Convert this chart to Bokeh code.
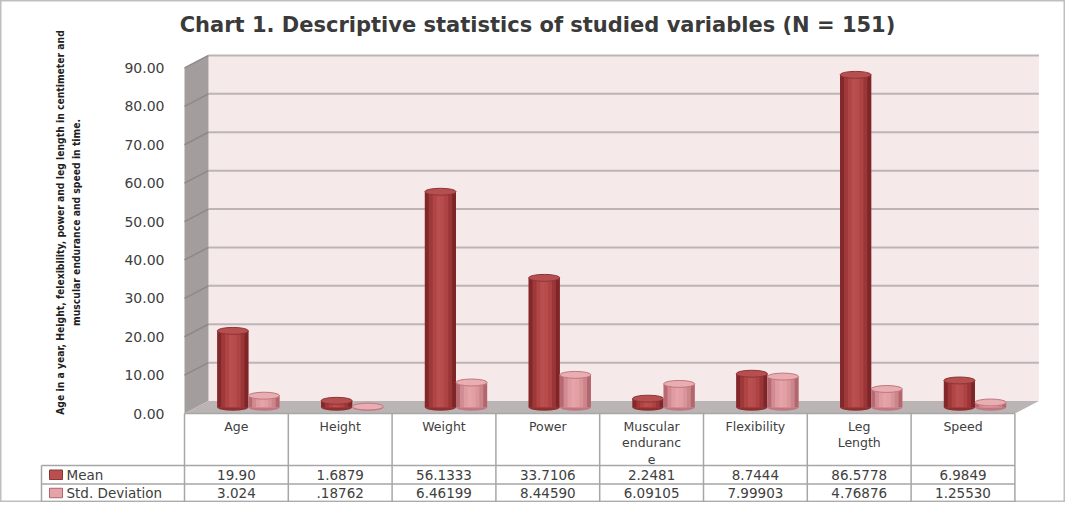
import numpy as np
from bokeh.plotting import figure
from bokeh.models import Range1d, ColumnDataSource
from bokeh.embed import file_html
from bokeh.resources import INLINE
from bokeh.core.properties import value

# ---------------- data ----------------
categories = ["Age", "Height", "Weight", "Power", "Muscular endurance",
              "Flexibility", "Leg Length", "Speed"]
category_labels = ["Age", "Height", "Weight", "Power", "Muscular\nenduranc\ne",
                   "Flexibility", "Leg\nLength", "Speed"]
mean_values = [19.90, 1.6879, 56.1333, 33.7106, 2.2481, 8.7444, 86.5778, 6.9849]
std_values = [3.024, 0.18762, 6.46199, 8.44590, 6.09105, 7.99903, 4.76876, 1.25530]
mean_labels = ["19.90", "1.6879", "56.1333", "33.7106", "2.2481", "8.7444", "86.5778", "6.9849"]
std_labels = ["3.024", ".18762", "6.46199", "8.44590", "6.09105", "7.99903", "4.76876", "1.25530"]
series_names = ["Mean", "Std. Deviation"]
y_ticks = [0, 10, 20, 30, 40, 50, 60, 70, 80, 90]
title_text = "Chart 1. Descriptive statistics of studied variables (N = 151)"
y_title_lines = ["Age in a year, Height, felexibility, power and leg length in centimeter and",
                 "muscular endurance and speed in time."]

# ---------------- layout (pixels of the reference picture) ----------------
W, H = 1065, 502
OFF = 8              # page margin
COL_PX = 103.8       # width of one category column
VAL_PX = 3.84        # pixels per value unit
X0_REF = 192         # front-left corner of the floor / table
BASE_REF = 414.8     # value 0 on the middle depth plane


def rx(px):
    return (px - X0_REF) / COL_PX


def ry(py):
    return (BASE_REF - py) / VAL_PX


DX = 12.0 / COL_PX   # half depth, x
DY = 6.25 / VAL_PX   # half depth, y
N = len(categories)
YMAX = y_ticks[-1]

p = figure(width=W, height=H, output_backend="svg", toolbar_location=None,
           x_range=Range1d(rx(OFF), rx(OFF + W)),
           y_range=Range1d(ry(OFF + H), ry(OFF)),
           min_border=0, background_fill_color="white", border_fill_color="white",
           outline_line_color="#BFBFBF", outline_line_width=2)
p.axis.visible = False
p.grid.visible = False

TXT = "#404040"
FONT = value("DejaVu Sans")

# back wall
p.quad(left=[2 * DX], right=[N + 2 * DX], bottom=[DY], top=[YMAX + DY],
       fill_color="#F5E9E9", line_color=None)
# side wall
p.patch([0, 0, 2 * DX, 2 * DX], [-DY, YMAX - DY, YMAX + DY, DY],
        fill_color="#A39D9D", line_color=None)
# floor
p.patch([0, N, N + 2 * DX, 2 * DX], [-DY, -DY, DY, DY],
        fill_color="#BAB4B4", line_color=None)

# gridlines
gt = np.array(y_ticks[1:], dtype=float)
p.segment(x0=np.full(len(gt), 2 * DX), y0=gt + DY, x1=np.full(len(gt), N + 2 * DX), y1=gt + DY,
          line_color="#BDB5B5", line_width=2)
p.segment(x0=np.zeros(len(gt)), y0=gt - DY, x1=np.full(len(gt), 2 * DX), y1=gt + DY,
          line_color="#8E8888", line_width=1.5)

# cylinders
BW = 0.30
EH = 1.8
idx = np.arange(N)
mean_x = idx + 0.5 + DX - BW / 2
std_x = idx + 0.5 + DX + BW / 2

mean_shades = ["#82282A", "#9E3839", "#B04546", "#BA4F4F", "#B84C4C", "#AD4344", "#9A3637", "#7E2627"]
std_shades = ["#B86A72", "#D18B92", "#DF9DA2", "#E4A4A9", "#E2A0A5", "#DA959B", "#CB868C", "#B2676D"]


def cylinder(xc, vals, shades, bottom_col, top_fill, top_line):
    v = np.array(vals, dtype=float)
    src = ColumnDataSource(dict(x=xc, top=v, zero=np.zeros(N)))
    p.ellipse(x="x", y="zero", width=BW, height=EH, source=src,
              fill_color=bottom_col, line_color=None)
    # base body in mid colour so seams between shading strips do not show
    p.vbar(x="x", width=BW, top="top", bottom="zero", source=src,
           fill_color=shades[len(shades) // 2], line_color=None)
    k = len(shades)
    for j, c in enumerate(shades):
        l = xc - BW / 2 + j * BW / k
        r = l + BW / k + (0.006 if j < k - 1 else 0.0)
        s = ColumnDataSource(dict(left=l, right=r, top=v, bottom=np.zeros(N)))
        p.quad(left="left", right="right", top="top", bottom="bottom", source=s,
               fill_color=c, line_color=None)
    p.ellipse(x="x", y="top", width=BW, height=EH, source=src,
              fill_color=top_fill, line_color=top_line, line_width=1)


cylinder(mean_x, mean_values, mean_shades, "#8E2F30", "#B65050", "#8E3435")
cylinder(std_x, std_values, std_shades, "#C07880", "#E9AEB2", "#C0777D")

# ---------------- table ----------------
GRID = "#A6A6A6"
row_tops = [ry(473), ry(491.5), ry(509.5)]
leg_left = rx(49)
p.segment(x0=[0], y0=[-DY], x1=[N], y1=[-DY], line_color=GRID, line_width=1.5)
p.segment(x0=[leg_left] * 3, y0=row_tops, x1=[N] * 3, y1=row_tops, line_color=GRID, line_width=1.5)
p.segment(x0=list(range(N + 1)), y0=[-DY] * (N + 1), x1=list(range(N + 1)), y1=[row_tops[-1]] * (N + 1),
          line_color=GRID, line_width=1.5)
p.segment(x0=[leg_left], y0=[row_tops[0]], x1=[leg_left], y1=[row_tops[-1]], line_color=GRID, line_width=1.5)

# category labels
p.text(x=idx + 0.5, y=[ry(426)] * N, text=category_labels, text_align="center",
       text_baseline="top", text_font=FONT, text_font_size="12.5px", text_color=TXT,
       text_line_height=1.1)

row_mid = [(row_tops[0] + row_tops[1]) / 2, (row_tops[1] + row_tops[2]) / 2]
p.text(x=idx + 0.5, y=[row_mid[0]] * N, text=mean_labels, text_align="center",
       text_baseline="middle", text_font=FONT, text_font_size="13.5px", text_color=TXT)
p.text(x=idx + 0.5, y=[row_mid[1]] * N, text=std_labels, text_align="center",
       text_baseline="middle", text_font=FONT, text_font_size="13.5px", text_color=TXT)

# legend cells
sw_h = 9.5 / VAL_PX
p.quad(left=[rx(57)] * 2, right=[rx(70)] * 2,
       bottom=[m - sw_h / 2 for m in row_mid], top=[m + sw_h / 2 for m in row_mid],
       fill_color=[mean_shades[3], std_shades[3]], line_color=["#8E3435", "#B0646A"], line_width=1)
p.text(x=[rx(74)] * 2, y=row_mid, text=series_names, text_align="left",
       text_baseline="middle", text_font=FONT, text_font_size="13.5px", text_color=TXT)

# y tick labels (front plane)
p.text(x=[rx(172)] * len(y_ticks), y=[t - DY for t in y_ticks],
       text=["%.2f" % t for t in y_ticks], text_align="right", text_baseline="middle",
       text_font=FONT, text_font_size="14px", text_color=TXT)

# y axis title
YT_FONT = value("DejaVu Sans Condensed")
p.text(x=[rx(67), rx(83)], y=[ry(230)] * 2, text=y_title_lines, angle=np.pi / 2,
       text_align="center", text_baseline="middle", text_font=YT_FONT,
       text_font_size="10.3px", text_font_style="bold", text_color="#202020")

# title
p.text(x=[rx(545)], y=[ry(32)], text=[title_text], text_align="center", text_baseline="middle",
       text_font=FONT, text_font_size="21px", text_font_style="bold", text_color="#3A3A3A")

open("out.html", "w").write(file_html(p, INLINE))
